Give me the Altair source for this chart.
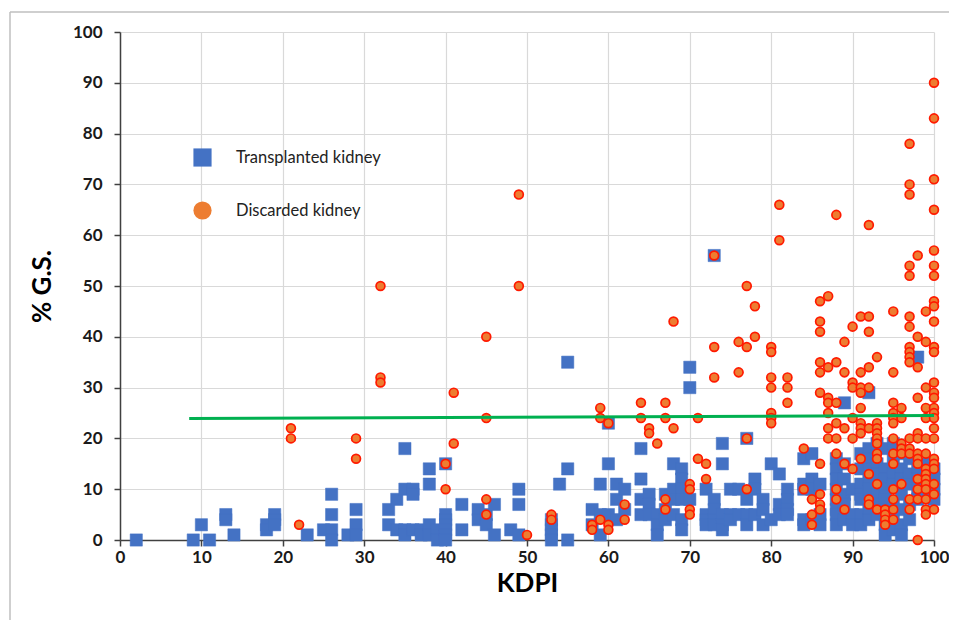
import altair as alt
import pandas as pd

# ---- Transplanted kidney (blue squares): KDPI -> list of %G.S.
transplanted = {
    2: [0], 9: [0], 10: [3], 11: [0], 13: [5, 4], 14: [1],
    18: [3, 2], 19: [5, 4, 3], 23: [1], 25: [2], 26: [9, 5, 2, 0],
    28: [1], 29: [6, 3, 1],
    33: [6, 3], 34: [8, 2], 35: [18, 10, 2, 1], 36: [10, 9, 2], 37: [2, 1],
    38: [14, 11, 3, 1], 39: [2, 0], 40: [15, 5, 4, 3, 2, 1, 0], 42: [7, 2],
    44: [6, 4], 45: [5, 3], 46: [7, 1], 48: [2], 49: [10, 7, 1],
    53: [4, 3, 2, 1, 0], 54: [11], 55: [35, 14, 0],
    58: [6, 3], 59: [11, 5, 1], 60: [23, 15, 5], 61: [11, 8, 4], 62: [10, 6],
    64: [18, 12, 8, 5], 65: [9, 7, 5], 66: [5, 3, 1], 67: [9, 6, 4],
    68: [15, 10, 8, 5], 69: [14, 12, 10, 8, 4, 2], 70: [34, 30, 8],
    72: [10, 5, 4, 3], 73: [56, 8, 6, 4, 3], 74: [19, 15, 5, 3, 2], 75: [10, 5, 4],
    76: [10, 5], 77: [20, 8, 5, 3], 78: [12, 10, 5], 79: [8, 6, 3], 80: [15, 4],
    81: [13, 7, 5], 82: [10, 8, 6, 5], 84: [16, 11, 10, 4, 3], 85: [17, 12, 10, 4],
    86: [11, 5, 3], 88: [16, 14, 12, 10, 8, 6, 5, 3], 89: [27, 15, 12, 9, 7, 4],
    90: [10, 5, 3], 91: [17, 14, 11, 9, 8, 5, 3], 92: [29, 18, 16, 14, 12, 10, 6, 4],
    93: [19, 15, 13, 9, 7, 5], 94: [18, 14, 12, 10, 8, 6, 3, 1],
    95: [19, 16, 13, 11, 7, 5, 2], 96: [17, 14, 12, 9, 6, 3, 1],
    97: [16, 13, 11, 7, 4], 98: [36, 14, 12, 10, 8], 99: [15, 13, 11, 9],
    100: [14, 12, 10, 8],
}

# ---- Discarded kidney (orange circles): KDPI -> list of %G.S.
discarded = {
    21: [22, 20], 22: [3], 29: [20, 16], 32: [50, 32, 31], 40: [15, 10],
    41: [29, 19], 45: [40, 24, 8, 5], 49: [68, 50], 50: [1], 53: [5, 4],
    58: [3, 2], 59: [26, 24, 4], 60: [23, 3, 2], 62: [7, 4], 64: [27, 24],
    65: [22, 21], 66: [19], 67: [27, 24, 8, 6], 68: [43, 22],
    70: [11, 10, 6, 5], 71: [24, 16], 72: [15, 12], 73: [56, 38, 32],
    76: [39, 33], 77: [50, 38, 20, 10], 78: [46, 40],
    80: [38, 37, 32, 30, 25, 24, 23], 81: [66, 59], 82: [32, 30, 27],
    84: [18, 10], 85: [8, 5, 3],
    86: [47, 43, 41, 35, 33, 29, 15, 9, 7, 6],
    87: [48, 34, 28, 27, 25, 22, 20],
    88: [64, 35, 27, 23, 20, 17, 10, 8],
    89: [39, 33, 22, 15, 6],
    90: [42, 31, 30, 24, 20, 14],
    91: [44, 33, 30, 29, 26, 23, 22, 21, 16],
    92: [62, 44, 41, 34, 30, 22, 13, 8, 7],
    93: [36, 23, 22, 21, 20, 19, 17, 16, 11, 6],
    94: [6, 5, 4, 3],
    95: [45, 33, 27, 25, 24, 23, 20, 17, 15, 10, 8, 6, 4],
    96: [26, 24, 19, 18, 17, 11],
    97: [78, 70, 68, 54, 52, 44, 42, 38, 37, 36, 35, 20, 18, 17, 8, 6],
    98: [56, 40, 34, 28, 21, 20, 17, 16, 15, 12, 10, 8, 0],
    99: [45, 39, 30, 26, 24, 20, 17, 14, 13, 12, 11, 10, 8, 6, 5],
    100: [90, 83, 71, 65, 57, 54, 52, 47, 46, 43, 38, 37, 31, 29, 28, 26, 25,
          24, 22, 20, 16, 15, 14, 11, 9, 6],
}

# ---- Threshold line
line_x = [8.5, 100]
line_y = [23.9, 24.5]

T = "Transplanted kidney"
D = "Discarded kidney"

rows = []
for k, ys in transplanted.items():
    for v in ys:
        rows.append({"KDPI": k, "GS": v, "type": T})
for k, ys in discarded.items():
    for v in ys:
        rows.append({"KDPI": k, "GS": v, "type": D})
df = pd.DataFrame(rows)
line_df = pd.DataFrame({"KDPI": line_x, "GS": line_y})

FONT = "Lato"
xscale = alt.Scale(domain=[0, 100], nice=False, zero=False)
yscale = alt.Scale(domain=[0, 100], nice=False, zero=False)

points = alt.Chart(df).mark_point(filled=True, opacity=1).encode(
    x=alt.X("KDPI:Q", scale=xscale, title="KDPI",
            axis=alt.Axis(values=list(range(0, 101, 10)), labelFlush=False)),
    y=alt.Y("GS:Q", scale=yscale, title="% G.S.",
            axis=alt.Axis(values=list(range(0, 101, 10)), labelFlush=False)),
    color=alt.Color("type:N",
                    scale=alt.Scale(domain=[T, D], range=["#4472C4", "#ED7D31"]),
                    legend=alt.Legend(title=None, orient="none", legendX=73, legendY=116,
                                      symbolSize=330, symbolStrokeWidth=0,
                                      rowPadding=34, labelOffset=24, padding=0,
                                      labelFontSize=16.5, labelFont=FONT,
                                      labelColor="#222222", symbolOpacity=1)),
    shape=alt.Shape("type:N", scale=alt.Scale(domain=[T, D], range=["square", "circle"])),
    stroke=alt.condition(alt.datum.type == D, alt.value("#FF1A00"), alt.value("#4472C4")),
    strokeWidth=alt.condition(alt.datum.type == D, alt.value(1.7), alt.value(0.5)),
    size=alt.condition(alt.datum.type == D, alt.value(78), alt.value(150)),
)

trend = alt.Chart(line_df).mark_line(color="#00B050", strokeWidth=3).encode(
    x="KDPI:Q", y="GS:Q"
)

frame_top = alt.Chart(line_df).mark_rule(color="#BFBFBF", strokeWidth=1).encode(
    x=alt.value(-110), x2=alt.value(842), y=alt.value(-20)
)
frame_left = alt.Chart(line_df).mark_rule(color="#BFBFBF", strokeWidth=1).encode(
    x=alt.value(-110), y=alt.value(-20), y2=alt.value(610)
)

chart = alt.layer(frame_top, frame_left, points, trend).properties(
    width=814, height=508,
    autosize=alt.AutoSizeParams(type="none"),
    padding={"left": 112, "top": 24, "right": 15, "bottom": 80},
).configure_view(stroke=None).configure_axis(
    labelFont=FONT, labelFontSize=17, labelFontWeight="bold", labelColor="#1a1a1a",
    titleFont=FONT, titleFontSize=26, titleFontWeight="bold", titleColor="#000000",
    gridColor="#D9D9D9", gridWidth=1.2,
    domainColor="#404040", domainWidth=1.5,
    tickColor="#404040", tickWidth=1.5, tickSize=6,
).configure_axisX(
    labelPadding=3, titlePadding=5,
).configure_axisY(
    labelPadding=12, titlePadding=17,
)

chart.save("out.html", embed_options={"renderer": "svg", "actions": False})
